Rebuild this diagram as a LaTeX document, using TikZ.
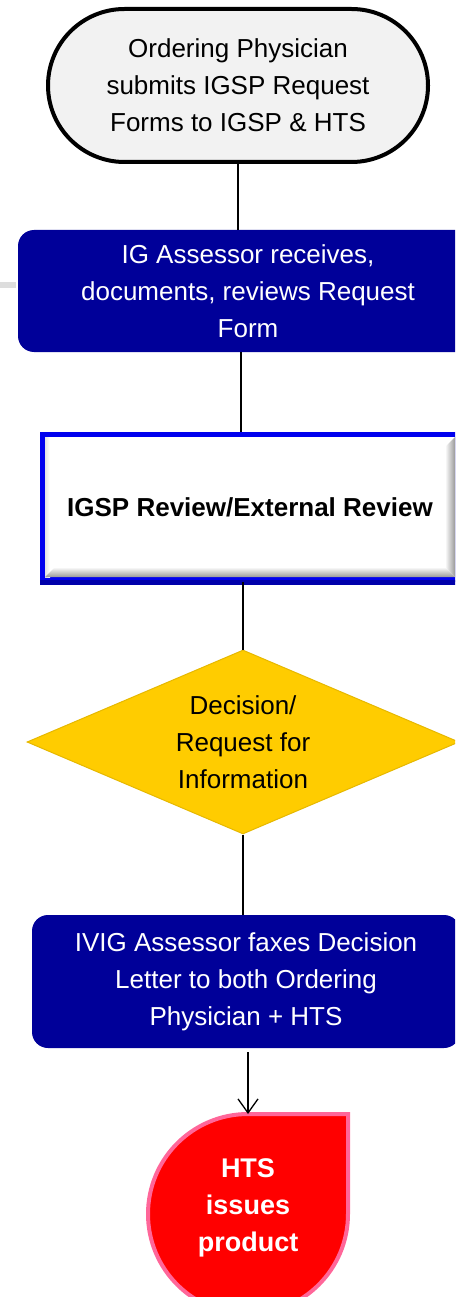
\documentclass[tikz,border=0pt]{standalone}
\usepackage{fontspec}
\setmainfont{Liberation Sans}
\usetikzlibrary{shapes.geometric,shapes.misc,arrows.meta,calc}
\definecolor{navy}{HTML}{000099}
\definecolor{termfill}{HTML}{F2F2F2}
\definecolor{revblue}{HTML}{0000EE}
\definecolor{revdark}{HTML}{0000AA}
\definecolor{decfill}{HTML}{FFCC00}
\definecolor{decline}{HTML}{E6B800}
\definecolor{tearfill}{HTML}{FF0000}
\definecolor{tearline}{HTML}{FF6699}
\definecolor{bevlight}{HTML}{E4E4E4}
\definecolor{bevdark}{HTML}{999999}
\definecolor{artgray}{HTML}{DDDDDD}
\begin{document}
\begin{tikzpicture}[x=1pt,y=1pt,
  txt/.style={align=center,font=\fontsize{26}{37}\selectfont},
  terminal/.style={txt,rounded rectangle,draw=black,line width=4pt,fill=termfill,
    minimum width=380pt,minimum height=153pt,inner sep=0pt},
  bluebox/.style={txt,rectangle,rounded corners=16pt,fill=navy,text=white,inner sep=0pt},
  revbox/.style={txt,rectangle,draw=revblue,line width=5pt,fill=white,inner sep=0pt,
    minimum width=415pt,minimum height=145pt},
  decbox/.style={txt,diamond,aspect=2.35,fill=decfill,draw=decline,line width=1pt,inner sep=0pt,
    minimum width=432pt,minimum height=184pt},
  conn/.style={draw=black,line width=1.3pt}]
\useasboundingbox (0,0) rectangle (455,-1297);
\clip (0,0) rectangle (455,-1297);

% small gray artifact at left
\fill[artgray] (0,-282) rectangle (16,-288);

% nodes
\node[terminal] (s) at (238,-85.5) {Ordering Physician\\submits IGSP Request\\Forms to IGSP \& HTS};
\node[bluebox,minimum width=460pt,minimum height=122pt] (b1) at (248,-291)
  {IG Assessor receives,\\documents, reviews Request\\Form};
\node[revbox] (r) at (250,-507) {};
% bevel inside the review box
\shade[left color=bevlight,right color=white] (45,-437) rectangle (50,-577);
\shade[left color=white,right color=bevdark] (455,-437) -- (455,-577) -- (445,-567) -- (445,-447) -- cycle;
\shade[top color=white,bottom color=bevdark] (45,-577) -- (455,-577) -- (445,-567) -- (55,-567) -- cycle;
\draw[revdark,line width=5pt] (r.south west) -- (r.south east);
\node[txt,font=\fontsize{26}{37}\selectfont\bfseries] (rt) at (r.center) {IGSP Review/External Review};
\node[decbox] (d) at (243,-742) {Decision/\\Request for\\Information};
\node[bluebox,minimum width=428pt,minimum height=133pt] (b2) at (246,-981.5)
  {IVIG Assessor faxes Decision\\Letter to both Ordering\\Physician + HTS};

% teardrop terminal
\coordinate (tt) at (248,-1114);
\filldraw[fill=tearfill,draw=tearline,line width=4pt,line join=miter]
  (tt) -- (348,-1114) -- (348,-1214) arc[start angle=0,end angle=-270,radius=100pt] -- cycle;
\node[txt,text=white,font=\fontsize{27}{37}\selectfont\bfseries] (t) at (248,-1208) {HTS\\issues\\product};

% connectors
\path[conn] (s.south) -- (s.south |- b1.north);
\path[conn] ([xshift=-2pt]b1.south -| d.north) -- ([xshift=-2pt]d.north |- r.north);
\path[conn] (r.south -| d.north) -- (d.north);
\path[conn] (d.south) -- (d.south |- b2.north);
\draw[line width=1.3pt,-{Straight Barb[length=14pt,width=20pt,line width=1.3pt]},shorten <=4pt]
  (b2.south -| tt) -- (tt);
\end{tikzpicture}
\end{document}
